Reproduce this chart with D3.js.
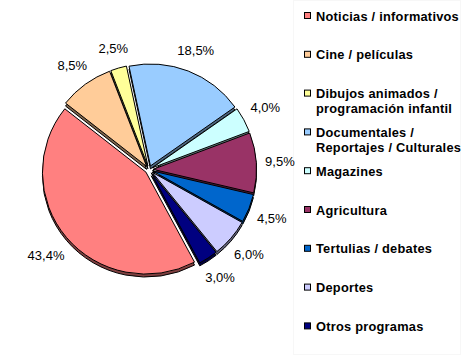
<!DOCTYPE html>
<html>
<head>
<meta charset="utf-8">
<script src="https://cdn.jsdelivr.net/npm/d3@7"></script>
<style>
  html, body { margin: 0; padding: 0; background: #ffffff; }
  svg { display: block; }
</style>
</head>
<body>
<script>
// ---- data ----
const categories = [
  "Noticias / informativos",
  "Cine / películas",
  "Dibujos animados /\nprogramación infantil",
  "Documentales /\nReportajes / Culturales",
  "Magazines",
  "Agricultura",
  "Tertulias / debates",
  "Deportes",
  "Otros programas"
];
const values = [43.4, 8.5, 2.5, 18.5, 4.0, 9.5, 4.5, 6.0, 3.0];
const colors = ["#FF8080", "#FFCC99", "#FFFF99", "#99CCFF", "#CCFFFF", "#993366", "#0066CC", "#CCCCFF", "#000080"];

// ---- layout ----
const W = 466, H = 364;
const cx = 149, cy = 169.6, r = 103.5;
const explode = 4, depth = 3;
const startDeg = 152;

const svg = d3.select("body").append("svg").attr("width", W).attr("height", H);

// legend box (very faint)
svg.append("rect").attr("x", 293.5).attr("y", 0.5).attr("width", 167).attr("height", 354)
  .attr("fill", "#ffffff").attr("stroke", "#f7f7f7");

const pie = d3.pie().sort(null).value(d => d)
  .startAngle(startDeg * Math.PI / 180)
  .endAngle(startDeg * Math.PI / 180 + 2 * Math.PI);
const arcs = pie(values);
const arc = d3.arc().innerRadius(0).outerRadius(r);

const g = svg.append("g").attr("transform", `translate(${cx},${cy}) scale(1,0.985)`);

function off(d) {
  const m = (d.startAngle + d.endAngle) / 2;
  return [Math.sin(m) * explode, -Math.cos(m) * explode];
}
function dark(c) {
  const k = d3.rgb(c);
  return d3.rgb(k.r * 0.5, k.g * 0.5, k.b * 0.5).toString();
}

// side / shadow
g.selectAll("path.side").data(arcs).join("path")
  .attr("class", "side")
  .attr("d", arc)
  .attr("transform", d => { const o = off(d); return `translate(${o[0]},${o[1] + depth})`; })
  .attr("fill", (d, i) => dark(colors[i]))
  .attr("stroke", "#000").attr("stroke-width", 1);

// top faces
g.selectAll("path.top").data(arcs).join("path")
  .attr("class", "top")
  .attr("d", arc)
  .attr("transform", d => { const o = off(d); return `translate(${o[0]},${o[1]})`; })
  .attr("fill", (d, i) => colors[i])
  .attr("stroke", "#000").attr("stroke-width", 1);

// percentage labels
const fmt = v => d3.format(".1f")(v).replace(".", ",") + "%";
const labelR = 116;
const lbl = svg.append("g").attr("font-family", "Arial, 'Liberation Sans', sans-serif")
  .attr("font-size", 13).attr("fill", "#000");
arcs.forEach((d, i) => {
  const m = (d.startAngle + d.endAngle) / 2;
  const s = Math.sin(m), c = -Math.cos(m);
  const t = lbl.append("text").text(fmt(values[i])).attr("text-anchor", "middle");
  const w = t.node().getComputedTextLength();
  const h = 12;
  const dist = labelR + (w / 2) * Math.abs(s) + (h / 2) * Math.abs(c);
  t.attr("x", cx + s * dist).attr("y", cy + c * dist).attr("dy", "0.36em");
});

// legend
const leg = svg.append("g").attr("font-family", "Arial, 'Liberation Sans', sans-serif")
  .attr("font-size", 12.8).attr("font-weight", "bold").attr("fill", "#000")
  .attr("letter-spacing", 0.25);
categories.forEach((name, i) => {
  const y = 15.5 + i * 38.8;
  leg.append("rect").attr("x", 304.5).attr("y", y - 3).attr("width", 6).attr("height", 6)
    .attr("fill", colors[i]).attr("stroke", "#000").attr("stroke-width", 1);
  const t = leg.append("text").attr("x", 316).attr("y", y + 5);
  name.split("\n").forEach((line, j) => {
    t.append("tspan").attr("x", 316).attr("y", y + 5 + j * 15).text(line);
  });
});
</script>
</body>
</html>
